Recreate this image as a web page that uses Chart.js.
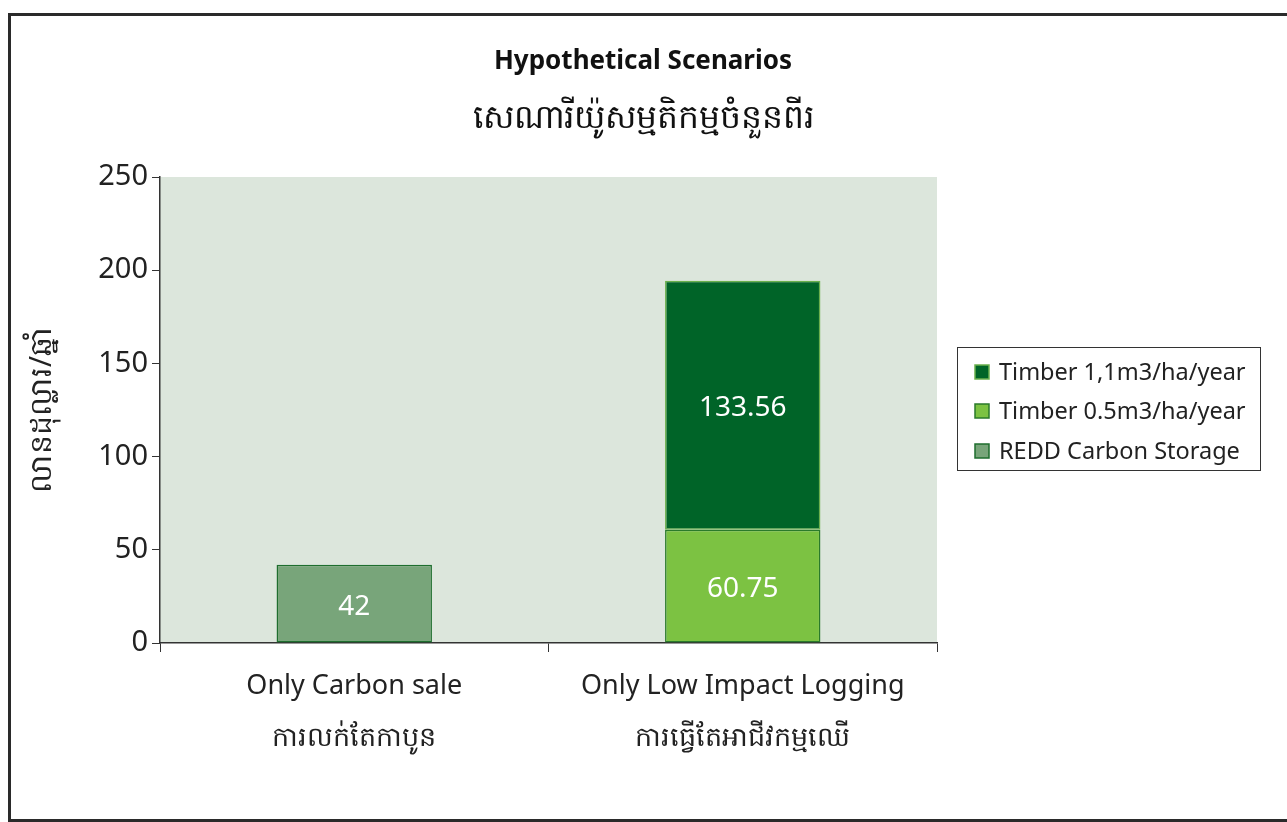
<!DOCTYPE html>
<html>
<head>
<meta charset="utf-8">
<script src="https://cdn.jsdelivr.net/npm/chart.js@4"></script>
<style>
html,body{margin:0;padding:0;background:#fff;}
#wrap{position:relative;width:1287px;height:822px;}
</style>
</head>
<body>
<div id="wrap"><canvas id="c" width="1287" height="822"></canvas></div>
<script>
const categories = [['Only Carbon sale', 'ការលក់តែកាបូន'], ['Only Low Impact Logging', 'ការធ្វើតែអាជីវកម្មឈើ']];
const reddCarbon = [42, null];
const timber05 = [null, 60.75];
const timber11 = [null, 133.56];
const yTicks = [0, 50, 100, 150, 200, 250];
const titleText = 'Hypothetical Scenarios';
const subtitleText = 'សេណារីយ៉ូសម្មតិកម្មចំនួនពីរ';
const yTitle = 'លានដុល្លារ/ឆ្នាំ';

const FONT = "'Noto Sans', 'DejaVu Sans', sans-serif";

const decor = {
  id: 'decor',
  beforeDraw(chart) {
    const {ctx, chartArea: a} = chart;
    ctx.save();
    ctx.fillStyle = '#dce6dc';
    ctx.fillRect(a.left, a.top, a.right - a.left, a.bottom - a.top);
    ctx.restore();
  },
  afterDraw(chart) {
    const ctx = chart.ctx;
    ctx.save();
    // frame
    ctx.strokeStyle = '#2a2a2a';
    ctx.lineWidth = 3;
    ctx.strokeRect(9.5, 14.5, 1290, 806);
    // titles
    ctx.fillStyle = '#111';
    ctx.textAlign = 'center';
    ctx.textBaseline = 'middle';
    ctx.font = "bold 26px " + FONT;
    ctx.fillText(titleText, 643, 62);
    ctx.font = "33px " + FONT;
    ctx.fillText(subtitleText, 643, 119);
    // value labels
    ctx.fillStyle = '#ffffff';
    ctx.font = "28px " + FONT;
    chart.data.datasets.forEach((ds, di) => {
      const meta = chart.getDatasetMeta(di);
      meta.data.forEach((el, i) => {
        const v = ds.data[i];
        if (v === null || v === undefined) return;
        const cy = (el.y + el.base) / 2 + 3;
        ctx.fillText(String(v), el.x, cy);
      });
    });
    // legend
    const lx = 957, ly = 347, lw = 303, lh = 123;
    ctx.fillStyle = '#fff';
    ctx.fillRect(lx, ly, lw, lh);
    ctx.strokeStyle = '#333';
    ctx.lineWidth = 1;
    ctx.strokeRect(lx + 0.5, ly + 0.5, lw, lh);
    const order = [2, 1, 0];
    const rows = [372, 411, 451];
    ctx.textAlign = 'left';
    ctx.font = "23.5px " + FONT;
    order.forEach((di, k) => {
      const ds = chart.data.datasets[di];
      const y = rows[k];
      ctx.fillStyle = ds.backgroundColor;
      ctx.fillRect(975, y - 7, 14, 14);
      ctx.strokeStyle = ds.borderColor;
      ctx.lineWidth = 1.5;
      ctx.strokeRect(975, y - 7, 14, 14);
      ctx.fillStyle = '#222';
      ctx.fillText(ds.label, 999, y + 1);
    });
    ctx.restore();
  }
};

new Chart(document.getElementById('c'), {
  type: 'bar',
  data: {
    labels: categories,
    datasets: [
      { label: 'REDD Carbon Storage', data: reddCarbon, backgroundColor: '#78a57a', borderColor: '#1e6e2e', borderWidth: 1.5 },
      { label: 'Timber 0.5m3/ha/year', data: timber05, backgroundColor: '#7cc242', borderColor: '#2a7a2a', borderWidth: 1.5 },
      { label: 'Timber 1,1m3/ha/year', data: timber11, backgroundColor: '#006428', borderColor: '#6ab04c', borderWidth: 1.5 }
    ]
  },
  options: {
    responsive: false,
    animation: false,
    devicePixelRatio: 1,
    layout: { padding: { top: 177, right: 350, bottom: 0, left: 0 } },
    plugins: { legend: { display: false }, title: { display: false }, tooltip: { enabled: false } },
    datasets: { bar: { barPercentage: 0.4, categoryPercentage: 1.0, borderSkipped: false } },
    scales: {
      x: {
        stacked: true,
        grid: { offset: true, drawOnChartArea: false, drawTicks: true, tickLength: 9, color: '#333' },
        border: { display: true, color: '#333', width: 1.5 },
        ticks: { color: '#222', padding: 9, maxRotation: 0, autoSkip: false,
          font: { family: FONT, size: 27, lineHeight: 1.9 } },
        afterFit(s) { s.height = 179; }
      },
      y: {
        stacked: true,
        min: 0, max: 250,
        afterBuildTicks(s) { s.ticks = yTicks.map(v => ({ value: v })); },
        grid: { drawOnChartArea: false, drawTicks: true, tickLength: 8, color: '#333' },
        border: { display: true, color: '#333', width: 1.5 },
        ticks: { color: '#222', font: { family: FONT, size: 29 }, padding: 4 },
        title: { display: true, text: yTitle, color: '#222', font: { family: FONT, size: 30 }, padding: { top: 24, bottom: 0 } },
        afterFit(s) { s.width = 160; }
      }
    }
  },
  plugins: [decor]
});
</script>
</body>
</html>
